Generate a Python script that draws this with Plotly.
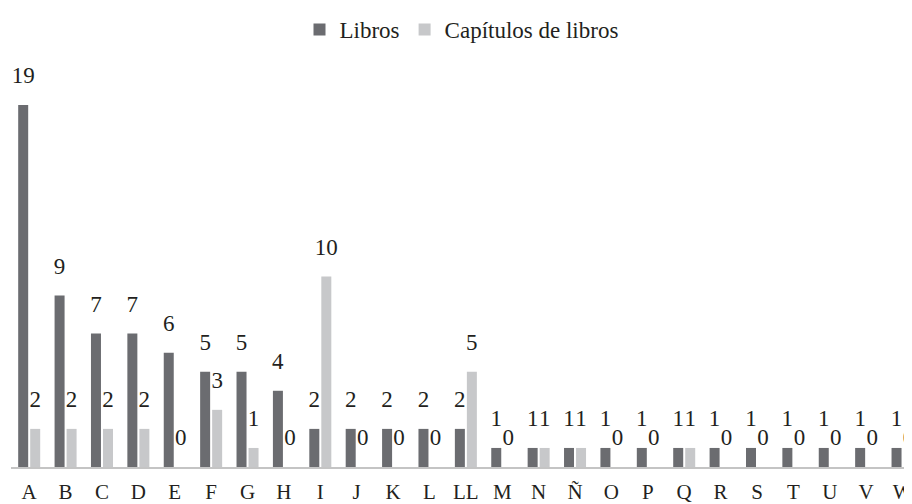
import plotly.graph_objects as go

categories = ["A", "B", "C", "D", "E", "F", "G", "H", "I", "J", "K", "L", "LL",
              "M", "N", "Ñ", "O", "P", "Q", "R", "S", "T", "U", "V", "W"]
libros = [19, 9, 7, 7, 6, 5, 5, 4, 2, 2, 2, 2, 2, 1, 1, 1, 1, 1, 1, 1, 1, 1, 1, 1, 1]
capitulos = [2, 2, 2, 2, 0, 3, 1, 0, 10, 0, 0, 0, 5, 0, 1, 1, 0, 0, 1, 0, 0, 0, 0, 0, 0]
series_names = ["Libros", "Capítulos de libros"]

FONT = "Liberation Serif"
TXT = "#231f20"
label_tpl = "<span style='font-size:23px'>%{y}</span><br>\u00a0"

fig = go.Figure()
for name, vals, color in [(series_names[0], libros, "#6b6c70"),
                          (series_names[1], capitulos, "#c7c8ca")]:
    fig.add_trace(go.Bar(
        x=categories, y=vals, name=name,
        marker=dict(color=color, line=dict(width=0)),
        texttemplate=label_tpl, textposition="outside",
        textfont=dict(family=FONT, size=12, color=TXT),
        constraintext="none", cliponaxis=False,
    ))

# page body adds an 8px margin, so the figure is sized to fill the rest
fig.update_layout(
    width=904, height=496,
    margin=dict(l=3, r=0, t=52, b=37),
    paper_bgcolor="white", plot_bgcolor="white",
    barmode="group", bargap=0.34, bargroupgap=0.167,
    font=dict(family=FONT, color=TXT),
    showlegend=True,
    legend=dict(orientation="h", x=0.5, xanchor="center",
                y=1, yref="container", yanchor="top",
                font=dict(family=FONT, size=23, color=TXT),
                itemwidth=30, traceorder="normal"),
    xaxis=dict(type="category", range=[-0.5, 24.26], showgrid=False,
               showline=True, linecolor="#c4c4c4", linewidth=2,
               ticks="", tickfont=dict(family=FONT, size=21, color=TXT),
               ticklabelstandoff=5, fixedrange=True),
    yaxis=dict(range=[0, 21.36], visible=False, showgrid=False,
               zeroline=False, fixedrange=True),
)

fig.write_html("out.html")
